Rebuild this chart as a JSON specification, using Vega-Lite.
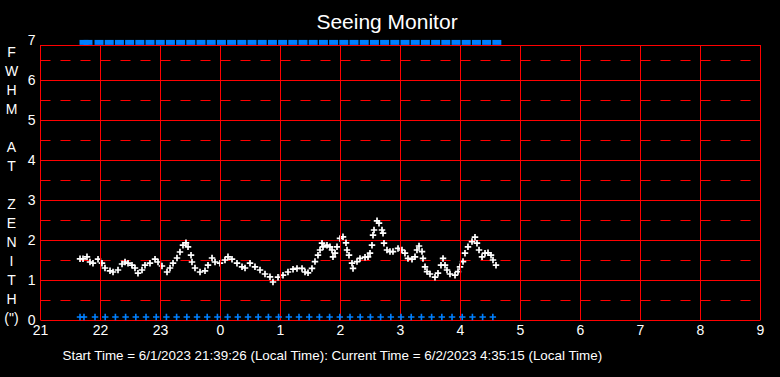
{
  "$schema": "https://vega.github.io/schema/vega-lite/v6.json",
  "width": 720,
  "height": 280,
  "autosize": {"type": "none"},
  "padding": {"left": 40, "top": 40, "right": 20, "bottom": 57},
  "background": "#000000",
  "config": {"view": {"stroke": null}, "font": "Liberation Sans"},
  "title": {"text": "Seeing Monitor", "fontSize": 21, "font": "Liberation Sans", "fontWeight": "normal", "color": "#ffffff", "anchor": "middle", "dx": -13, "dy": 22, "baseline": "alphabetic", "offset": 5},
  "datasets": {
    "hours": [{"t": 21}, {"t": 22}, {"t": 23}, {"t": 24}, {"t": 25}, {"t": 26}, {"t": 27}, {"t": 28}, {"t": 29}, {"t": 30}, {"t": 31}, {"t": 32}, {"t": 33}],
    "frame": [{"v": 6.875}],
    "markers": [{"t": 21.667}, {"t": 21.733}, {"t": 21.917}, {"t": 22.087}, {"t": 22.257}, {"t": 22.427}, {"t": 22.597}, {"t": 22.767}, {"t": 22.937}, {"t": 23.107}, {"t": 23.277}, {"t": 23.447}, {"t": 23.617}, {"t": 23.787}, {"t": 23.957}, {"t": 24.127}, {"t": 24.297}, {"t": 24.467}, {"t": 24.637}, {"t": 24.807}, {"t": 24.977}, {"t": 25.147}, {"t": 25.317}, {"t": 25.487}, {"t": 25.657}, {"t": 25.827}, {"t": 25.997}, {"t": 26.167}, {"t": 26.337}, {"t": 26.507}, {"t": 26.677}, {"t": 26.847}, {"t": 27.017}, {"t": 27.187}, {"t": 27.357}, {"t": 27.527}, {"t": 27.697}, {"t": 27.867}, {"t": 28.037}, {"t": 28.207}, {"t": 28.377}, {"t": 28.547}],
    "fwhm": [
      {"t": 21.667, "v": 1.53}, {"t": 21.717, "v": 1.53}, {"t": 21.783, "v": 1.58}, {"t": 21.833, "v": 1.45}, {"t": 21.883, "v": 1.42},
      {"t": 21.967, "v": 1.52}, {"t": 22.033, "v": 1.42}, {"t": 22.083, "v": 1.30}, {"t": 22.167, "v": 1.23}, {"t": 22.217, "v": 1.20},
      {"t": 22.3, "v": 1.25}, {"t": 22.367, "v": 1.40}, {"t": 22.417, "v": 1.45}, {"t": 22.467, "v": 1.42}, {"t": 22.533, "v": 1.37},
      {"t": 22.583, "v": 1.30}, {"t": 22.633, "v": 1.17}, {"t": 22.7, "v": 1.25}, {"t": 22.75, "v": 1.37}, {"t": 22.833, "v": 1.42},
      {"t": 22.917, "v": 1.52}, {"t": 22.967, "v": 1.45}, {"t": 23.033, "v": 1.35}, {"t": 23.117, "v": 1.20}, {"t": 23.167, "v": 1.30},
      {"t": 23.217, "v": 1.42}, {"t": 23.283, "v": 1.55}, {"t": 23.333, "v": 1.70}, {"t": 23.383, "v": 1.87}, {"t": 23.433, "v": 1.93},
      {"t": 23.467, "v": 1.83}, {"t": 23.517, "v": 1.62}, {"t": 23.533, "v": 1.45}, {"t": 23.583, "v": 1.30}, {"t": 23.667, "v": 1.20},
      {"t": 23.75, "v": 1.23}, {"t": 23.8, "v": 1.37}, {"t": 23.867, "v": 1.55}, {"t": 23.917, "v": 1.45}, {"t": 24.0, "v": 1.42},
      {"t": 24.083, "v": 1.50}, {"t": 24.133, "v": 1.58}, {"t": 24.2, "v": 1.52}, {"t": 24.283, "v": 1.42}, {"t": 24.367, "v": 1.33},
      {"t": 24.417, "v": 1.30}, {"t": 24.5, "v": 1.42}, {"t": 24.583, "v": 1.33}, {"t": 24.667, "v": 1.25}, {"t": 24.75, "v": 1.15},
      {"t": 24.833, "v": 1.08}, {"t": 24.883, "v": 0.95}, {"t": 24.967, "v": 1.07}, {"t": 25.05, "v": 1.12}, {"t": 25.133, "v": 1.20},
      {"t": 25.217, "v": 1.27}, {"t": 25.283, "v": 1.29}, {"t": 25.367, "v": 1.29}, {"t": 25.417, "v": 1.20}, {"t": 25.467, "v": 1.18},
      {"t": 25.533, "v": 1.29}, {"t": 25.583, "v": 1.46}, {"t": 25.633, "v": 1.62}, {"t": 25.667, "v": 1.75}, {"t": 25.7, "v": 1.92},
      {"t": 25.717, "v": 1.83}, {"t": 25.783, "v": 1.87}, {"t": 25.833, "v": 1.83}, {"t": 25.867, "v": 1.75}, {"t": 25.883, "v": 1.58},
      {"t": 25.917, "v": 1.67}, {"t": 25.95, "v": 1.83}, {"t": 26.0, "v": 2.04}, {"t": 26.05, "v": 2.08}, {"t": 26.1, "v": 1.93},
      {"t": 26.117, "v": 1.75}, {"t": 26.15, "v": 1.62}, {"t": 26.2, "v": 1.42}, {"t": 26.217, "v": 1.29}, {"t": 26.283, "v": 1.46},
      {"t": 26.333, "v": 1.54}, {"t": 26.417, "v": 1.57}, {"t": 26.467, "v": 1.58}, {"t": 26.5, "v": 1.67}, {"t": 26.533, "v": 1.87},
      {"t": 26.55, "v": 2.12}, {"t": 26.567, "v": 2.25}, {"t": 26.617, "v": 2.48}, {"t": 26.65, "v": 2.42}, {"t": 26.7, "v": 2.25},
      {"t": 26.717, "v": 2.17}, {"t": 26.733, "v": 1.92}, {"t": 26.783, "v": 1.75}, {"t": 26.833, "v": 1.71}, {"t": 26.883, "v": 1.71},
      {"t": 26.967, "v": 1.79}, {"t": 27.033, "v": 1.75}, {"t": 27.083, "v": 1.67}, {"t": 27.133, "v": 1.54}, {"t": 27.2, "v": 1.52},
      {"t": 27.25, "v": 1.58}, {"t": 27.283, "v": 1.75}, {"t": 27.317, "v": 1.85}, {"t": 27.367, "v": 1.71}, {"t": 27.383, "v": 1.54},
      {"t": 27.417, "v": 1.33}, {"t": 27.45, "v": 1.21}, {"t": 27.5, "v": 1.15}, {"t": 27.583, "v": 1.07}, {"t": 27.633, "v": 1.17},
      {"t": 27.683, "v": 1.37}, {"t": 27.717, "v": 1.54}, {"t": 27.75, "v": 1.37}, {"t": 27.783, "v": 1.25}, {"t": 27.833, "v": 1.15},
      {"t": 27.917, "v": 1.12}, {"t": 27.967, "v": 1.21}, {"t": 28.0, "v": 1.33}, {"t": 28.05, "v": 1.46}, {"t": 28.083, "v": 1.67},
      {"t": 28.133, "v": 1.83}, {"t": 28.2, "v": 1.96}, {"t": 28.25, "v": 2.07}, {"t": 28.283, "v": 1.92}, {"t": 28.317, "v": 1.75},
      {"t": 28.367, "v": 1.58}, {"t": 28.417, "v": 1.67}, {"t": 28.467, "v": 1.68}, {"t": 28.517, "v": 1.62}, {"t": 28.55, "v": 1.50},
      {"t": 28.6, "v": 1.37}
    ]
  },
  "encoding": {
    "x": {
      "field": "t", "type": "quantitative",
      "scale": {"domain": [21, 33], "nice": false, "zero": false},
      "axis": {
        "values": [21, 22, 23, 24, 25, 26, 27, 28, 29, 30, 31, 32, 33],
        "labelExpr": "datum.value % 24",
        "labelColor": "#ffffff", "labelFontSize": 14, "labelPadding": 3, "labelFlush": false, "labelOverlap": false,
        "ticks": false, "domain": false, "grid": false,
        "title": "Start Time = 6/1/2023 21:39:26 (Local Time): Current Time = 6/2/2023 4:35:15 (Local Time)",
        "titleColor": "#ffffff", "titleFontSize": 13.4, "titleFontWeight": "normal",
        "titleX": 22, "titleY": 39, "titleAlign": "left", "titleAnchor": "start", "titleBaseline": "alphabetic"
      }
    }
  },
  "layer": [
    {
      "data": {"name": "fwhm"},
      "mark": {"type": "point", "shape": "M-1,0H1M0,-1V1", "filled": false, "stroke": "#ffffff", "strokeWidth": 1.7, "size": 42, "opacity": 1},
      "encoding": {
        "y": {
          "field": "v", "type": "quantitative",
          "scale": {"domain": [0, 7], "nice": false, "zero": true},
          "axis": {
            "values": [0, 0.5, 1, 1.5, 2, 2.5, 3, 3.5, 4, 4.5, 5, 5.5, 6, 6.5, 7],
            "labelExpr": "datum.value % 1 === 0 ? datum.value : ''",
            "labelColor": "#ffffff", "labelFontSize": 14, "labelPadding": 5, "labelFlush": false, "labelOverlap": false,
            "ticks": false, "domain": false,
            "grid": true, "gridColor": "#ff0000", "gridWidth": 1,
            "gridDash": {"condition": {"test": "datum.value % 1 !== 0", "value": [10, 10]}, "value": []},
            "gridOpacity": {"condition": {"test": "datum.value === 7", "value": 0}, "value": 1},
            "title": ["F", "W", "H", "M", "\u200b", "A", "T", "\u200b", "Z", "E", "N", "I", "T", "H", "(\")"],
            "titleAngle": 0, "titleFontSize": 14, "titleFontWeight": "normal", "titleColor": "#ffffff",
            "titleLineHeight": 19, "titleX": -29, "titleY": 5, "titleAlign": "center", "titleBaseline": "top"
          }
        }
      }
    },
    {
      "data": {"name": "frame"},
      "mark": {"type": "rule", "color": "#ff0000", "strokeWidth": 1, "yOffset": 0.5},
      "encoding": {
        "x": null,
        "y": {
          "field": "v", "type": "quantitative",
          "axis": {
            "values": [0, 0.5, 1, 1.5, 2, 2.5, 3, 3.5, 4, 4.5, 5, 5.5, 6, 6.5, 7],
            "labelExpr": "datum.value % 1 === 0 ? datum.value : ''",
            "labelColor": "#ffffff", "labelFontSize": 14, "labelPadding": 5, "labelFlush": false, "labelOverlap": false,
            "ticks": false, "domain": false,
            "grid": true, "gridColor": "#ff0000", "gridWidth": 1,
            "gridDash": {"condition": {"test": "datum.value % 1 !== 0", "value": [10, 10]}, "value": []},
            "gridOpacity": {"condition": {"test": "datum.value === 7", "value": 0}, "value": 1},
            "title": ["F", "W", "H", "M", "\u200b", "A", "T", "\u200b", "Z", "E", "N", "I", "T", "H", "(\")"],
            "titleAngle": 0, "titleFontSize": 14, "titleFontWeight": "normal", "titleColor": "#ffffff",
            "titleLineHeight": 19, "titleX": -29, "titleY": 5, "titleAlign": "center", "titleBaseline": "top"
          }
        }
      }
    },
    {
      "data": {"name": "hours"},
      "mark": {"type": "rule", "color": "#ff0000", "strokeWidth": 1, "xOffset": 0.5},
      "encoding": {
        "y": {
          "datum": 0, "type": "quantitative",
          "axis": {
            "values": [0, 0.5, 1, 1.5, 2, 2.5, 3, 3.5, 4, 4.5, 5, 5.5, 6, 6.5, 7],
            "labelExpr": "datum.value % 1 === 0 ? datum.value : ''",
            "labelColor": "#ffffff", "labelFontSize": 14, "labelPadding": 5, "labelFlush": false, "labelOverlap": false,
            "ticks": false, "domain": false,
            "grid": true, "gridColor": "#ff0000", "gridWidth": 1,
            "gridDash": {"condition": {"test": "datum.value % 1 !== 0", "value": [10, 10]}, "value": []},
            "gridOpacity": {"condition": {"test": "datum.value === 7", "value": 0}, "value": 1},
            "title": ["F", "W", "H", "M", "\u200b", "A", "T", "\u200b", "Z", "E", "N", "I", "T", "H", "(\")"],
            "titleAngle": 0, "titleFontSize": 14, "titleFontWeight": "normal", "titleColor": "#ffffff",
            "titleLineHeight": 19, "titleX": -29, "titleY": 5, "titleAlign": "center", "titleBaseline": "top"
          }
        },
        "y2": {"datum": 6.875}
      }
    },
    {
      "data": {"name": "markers"},
      "mark": {"type": "point", "shape": "M-1,0H1M0,-1V1", "filled": false, "stroke": "#0080ff", "strokeWidth": 1.6, "size": 42, "opacity": 1},
      "encoding": {
        "y": {
          "datum": 0.075, "type": "quantitative",
          "axis": {
            "values": [0, 0.5, 1, 1.5, 2, 2.5, 3, 3.5, 4, 4.5, 5, 5.5, 6, 6.5, 7],
            "labelExpr": "datum.value % 1 === 0 ? datum.value : ''",
            "labelColor": "#ffffff", "labelFontSize": 14, "labelPadding": 5, "labelFlush": false, "labelOverlap": false,
            "ticks": false, "domain": false,
            "grid": true, "gridColor": "#ff0000", "gridWidth": 1,
            "gridDash": {"condition": {"test": "datum.value % 1 !== 0", "value": [10, 10]}, "value": []},
            "gridOpacity": {"condition": {"test": "datum.value === 7", "value": 0}, "value": 1},
            "title": ["F", "W", "H", "M", "\u200b", "A", "T", "\u200b", "Z", "E", "N", "I", "T", "H", "(\")"],
            "titleAngle": 0, "titleFontSize": 14, "titleFontWeight": "normal", "titleColor": "#ffffff",
            "titleLineHeight": 19, "titleX": -29, "titleY": 5, "titleAlign": "center", "titleBaseline": "top"
          }
        }
      }
    },
    {
      "data": {"name": "markers"},
      "mark": {"type": "point", "shape": "M-1,-0.55H1V0.55H-1Z", "filled": true, "fill": "#0080ff", "strokeWidth": 0, "size": 81, "opacity": 1, "xOffset": 4},
      "encoding": {
        "y": {
          "datum": 6.94, "type": "quantitative",
          "axis": {
            "values": [0, 0.5, 1, 1.5, 2, 2.5, 3, 3.5, 4, 4.5, 5, 5.5, 6, 6.5, 7],
            "labelExpr": "datum.value % 1 === 0 ? datum.value : ''",
            "labelColor": "#ffffff", "labelFontSize": 14, "labelPadding": 5, "labelFlush": false, "labelOverlap": false,
            "ticks": false, "domain": false,
            "grid": true, "gridColor": "#ff0000", "gridWidth": 1,
            "gridDash": {"condition": {"test": "datum.value % 1 !== 0", "value": [10, 10]}, "value": []},
            "gridOpacity": {"condition": {"test": "datum.value === 7", "value": 0}, "value": 1},
            "title": ["F", "W", "H", "M", "\u200b", "A", "T", "\u200b", "Z", "E", "N", "I", "T", "H", "(\")"],
            "titleAngle": 0, "titleFontSize": 14, "titleFontWeight": "normal", "titleColor": "#ffffff",
            "titleLineHeight": 19, "titleX": -29, "titleY": 5, "titleAlign": "center", "titleBaseline": "top"
          }
        }
      }
    }
  ]
}
